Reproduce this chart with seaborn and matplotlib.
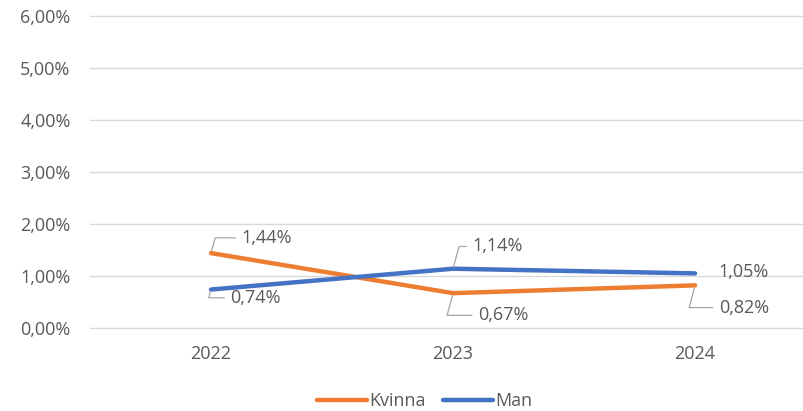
import pandas as pd
import numpy as np
import matplotlib
matplotlib.use("Agg")
import matplotlib.pyplot as plt
import seaborn as sns
from matplotlib.ticker import FuncFormatter

years = ["2022", "2023", "2024"]
kvinna = [1.44, 0.67, 0.82]
man = [0.74, 1.14, 1.05]
series_names = ["Kvinna", "Man"]
colors = {"Kvinna": "#ED7D31", "Man": "#4472C4"}

df = pd.DataFrame({
    "year": years * 2,
    "pos": list(range(len(years))) * 2,
    "value": kvinna + man,
    "serie": ["Kvinna"] * 3 + ["Man"] * 3,
})

sns.set_theme(style="white")
plt.rcParams["font.family"] = ["Open Sans", "DejaVu Sans"]
text_col = "#595959"
fs = 13

fig = plt.figure(figsize=(8.04, 4.11), dpi=100)
ax = fig.add_axes([90 / 804, 1 - 328 / 411, 714 / 804, 312 / 411])

sns.lineplot(data=df, x="pos", y="value", hue="serie", palette=colors,
             linewidth=3.2, ax=ax, legend=False, solid_capstyle="round")

ax.set_ylim(0, 6)
ax.set_xlim(-0.5, 2.45)
ax.set_yticks(np.arange(0, 7, 1))
ax.yaxis.set_major_formatter(FuncFormatter(lambda v, p: f"{v:.2f}%".replace(".", ",")))
ax.set_xticks(range(len(years)))
ax.set_xticklabels(years)
ax.grid(axis="y", color="#D9D9D9", linewidth=1)
for gl in ax.get_ygridlines():
    gl.set_clip_on(False)
ax.set_axisbelow(True)
for s in ax.spines.values():
    s.set_visible(False)
ax.tick_params(axis="both", length=0, labelsize=fs, labelcolor=text_col)
ax.tick_params(axis="y", pad=14)
ax.tick_params(axis="x", pad=12)
ax.set_xlabel("")
ax.set_ylabel("")

# data labels with leader lines (offsets in points)
offsets = {
    ("Kvinna", 0): (22, 11),
    ("Kvinna", 1): (18, -16),
    ("Kvinna", 2): (17, -16),
    ("Man", 0): (14, -6),
    ("Man", 1): (14, 16),
    ("Man", 2): (17, 1),
}
for name, vals in zip(series_names, [kvinna, man]):
    for i, v in enumerate(vals):
        dx, dy = offsets[(name, i)]
        lbl = f"{v:.2f}%".replace(".", ",")
        if (name, i) == ("Man", 2):
            ax.annotate(lbl, xy=(i, v), xytext=(dx, dy), textcoords="offset points",
                        ha="left", va="center", fontsize=fs, color=text_col)
        else:
            ax.annotate(lbl, xy=(i, v), xytext=(dx, dy), textcoords="offset points",
                        ha="left", va="center", fontsize=fs, color=text_col,
                        arrowprops=dict(arrowstyle="-", color="#A6A6A6", lw=0.9,
                                        shrinkA=2, shrinkB=2,
                                        connectionstyle="angle,angleA=0,angleB=75,rad=0"))

handles = [plt.Line2D([], [], color=colors[n], linewidth=3.2, solid_capstyle="round") for n in series_names]
fig.legend(handles, series_names, loc="center", bbox_to_anchor=(0.528, 1 - 401 / 411),
           ncol=2, frameon=False, fontsize=fs, handlelength=2.8, handletextpad=0.1,
           columnspacing=0.95, labelcolor=text_col)

fig.savefig("out.png", dpi=100)
